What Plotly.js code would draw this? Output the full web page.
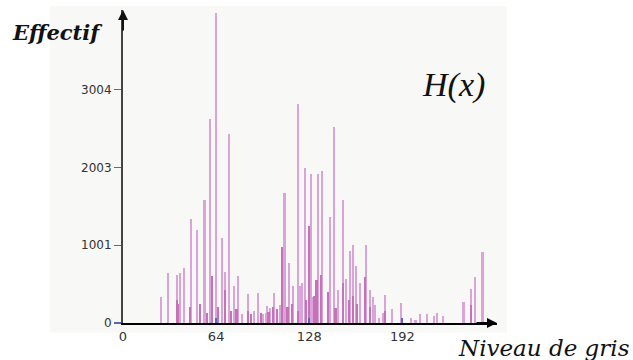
<!DOCTYPE html>
<html>
<head>
<meta charset="utf-8">
<script src="https://cdn.plot.ly/plotly-3.0.1.min.js"></script>
<style>html,body{margin:0;padding:0;background:#fff;}#chart{width:633px;height:360px;}</style>
</head>
<body>
<div id="chart"></div>
<script>
// Gray levels and counts (light bars)
const levelsLight = [26, 31, 37, 39, 42, 47, 51, 56, 60, 64, 68, 70, 73, 76, 79, 82, 86, 90, 93, 96, 98, 99, 101, 104, 108,
  111, 114, 117, 120, 122, 123, 125, 129, 130, 134, 137, 142, 145, 148, 151, 153, 156, 158, 160, 163, 167, 170, 172, 173,
  176, 179, 180, 185, 191, 192, 198, 201, 204, 209, 214, 216, 220, 234, 239, 242, 247];
const countsLight = [334, 646, 616, 646, 710, 1344, 1203, 1579, 2628, 3996, 1090, 663, 2435, 479, 600, 115, 368, 150, 381, 120, 128, 222, 193, 385, 230,
  1669, 770, 475, 2820, 479, 510, 1999, 1922, 338, 1922, 1951, 1365, 2520, 430, 1579, 561, 928, 1010, 732, 510, 1001, 424, 338, 231,
  64, 124, 359, 178, 253, 68, 60, 38, 115, 112, 94, 132, 90, 273, 432, 587, 915];
// Darker overlapping bars
const levelsDark = [37, 38, 46, 53, 58, 61, 65, 70, 74, 78, 86, 88, 95, 100, 103, 106, 109, 113, 116, 120, 126, 128, 131, 133, 136, 141, 146, 151, 155, 158, 161, 166, 170, 180, 239];
const countsDark = [300, 250, 210, 244, 132, 603, 209, 424, 150, 180, 160, 120, 130, 140, 200, 180, 980, 200, 250, 150, 300, 1245, 350, 552, 616, 402, 197, 510, 300, 350, 250, 594, 200, 150, 231];
// Axis ticks
const xTicks = [0, 64, 128, 192];
const yTicks = [0, 1001, 2003, 3004];

const traces = [
  {type: 'bar', x: levelsLight, y: countsLight, width: 1.45, marker: {color: 'rgb(218,164,218)', line: {width: 0}}, hoverinfo: 'x+y'},
  {type: 'bar', x: levelsDark, y: countsDark, width: 1.45, marker: {color: 'rgb(198,114,184)', line: {width: 0}}, hoverinfo: 'x+y'}
];

const layout = {
  width: 633, height: 360,
  margin: {l: 123, r: 136, t: 10, b: 37, pad: 0},
  paper_bgcolor: '#ffffff',
  plot_bgcolor: 'rgba(0,0,0,0)',
  barmode: 'overlay',
  bargap: 0,
  showlegend: false,
  font: {family: 'DejaVu Sans, Verdana, sans-serif', size: 12, color: '#333'},
  xaxis: {
    range: [0, 257], showgrid: false, zeroline: false,
    showline: true, linecolor: '#000', linewidth: 2,
    tickmode: 'array', tickvals: xTicks, ticktext: xTicks.map(String),
    ticks: 'inside', ticklen: 5, tickwidth: 2, tickcolor: '#5566bb',
    tickfont: {family: 'DejaVu Sans, sans-serif', size: 13, color: '#333'}
  },
  yaxis: {
    range: [0, 4030], showgrid: false, zeroline: false,
    showline: true, linecolor: '#444', linewidth: 2,
    tickmode: 'array', tickvals: yTicks, ticktext: yTicks.map(String),
    ticks: 'outside', ticklen: 7, tickwidth: 1.5, tickcolor: '#5566bb',
    tickfont: {family: 'DejaVu Sans, sans-serif', size: 12, color: '#333'}
  },
  shapes: [
    {type: 'rect', xref: 'paper', yref: 'paper', x0: -0.195, x1: 1.027, y0: -0.03, y1: 1.013,
     fillcolor: '#f8f8f6', line: {width: 0}, layer: 'below'}
  ],
  annotations: [
    {xref: 'paper', yref: 'paper', x: 0, y: 1, ax: 0, ay: 22, text: '', showarrow: true,
     arrowhead: 2, arrowsize: 1, arrowwidth: 2, arrowcolor: '#111'},
    {xref: 'paper', yref: 'paper', x: 1, y: 0, ax: -22, ay: 0, text: '', showarrow: true,
     arrowhead: 2, arrowsize: 1, arrowwidth: 2, arrowcolor: '#000'},
    {xref: 'paper', yref: 'paper', x: -0.174, y: 0.927, xanchor: 'center', yanchor: 'middle', showarrow: false,
     text: '<b><i>Effectif</i></b>', font: {family: 'DejaVu Serif, serif', size: 21, color: '#111'}},
    {xref: 'paper', yref: 'paper', x: 0.885, y: 0.76, xanchor: 'center', yanchor: 'middle', showarrow: false,
     text: '<i>H(x)</i>', font: {family: 'Liberation Serif, serif', size: 34, color: '#111'}},
    {xref: 'paper', yref: 'paper', x: 1.126, y: -0.08, xanchor: 'center', yanchor: 'middle', showarrow: false,
     text: '<i>Niveau de gris</i>', font: {family: 'DejaVu Serif, serif', size: 23, color: '#111'}}
  ]
};

Plotly.newPlot('chart', traces, layout, {displayModeBar: false, staticPlot: true});
</script>
</body>
</html>
